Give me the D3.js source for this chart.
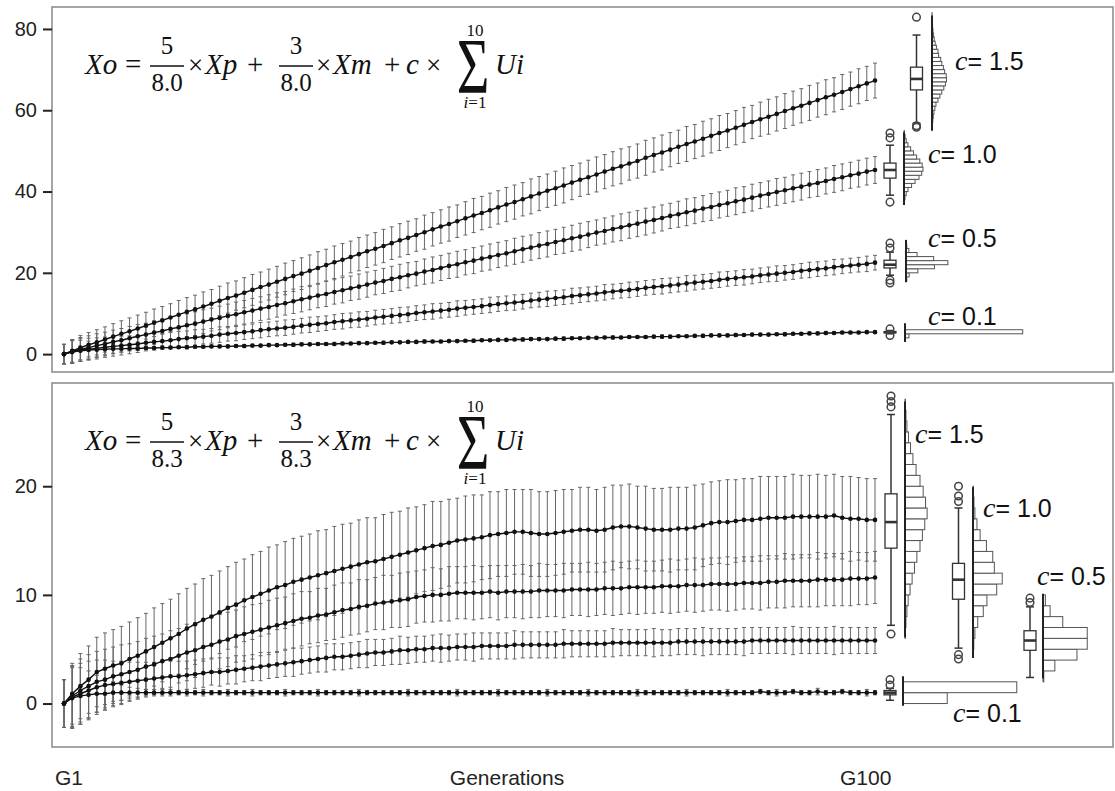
<!DOCTYPE html>
<html>
<head>
<script src="https://d3js.org/d3.v7.min.js"></script>
<style>
  body { margin: 0; background: #fff; }
  svg { display: block; background: #fff; }
</style>
</head>
<body>
<div id="container"></div>
<script>
// ---------- data ----------
var generations = d3.range(1, 101);
var cLevels = ["1.5", "1.0", "0.5", "0.1"];
var topTicks = [0, 20, 40, 60, 80];
var bottomTicks = [0, 10, 20];
var xLabels = ["G1", "Generations", "G100"];

// top panel: Xo = 5/8.0 Xp + 3/8.0 Xm + c * sum(Ui)
var topMean15 = [0.0,0.8,1.6,2.3,2.9,3.6,4.3,5.0,5.6,6.3,
  7.0,7.7,8.3,9.0,9.7,10.4,11.0,11.7,12.4,13.1,
  13.8,14.4,15.1,15.8,16.5,17.1,17.8,18.5,19.2,19.8,
  20.5,21.2,21.9,22.6,23.2,23.9,24.6,25.3,25.9,26.6,
  27.3,28.0,28.6,29.3,30.0,30.7,31.4,32.0,32.7,33.4,
  34.1,34.7,35.4,36.1,36.8,37.4,38.1,38.8,39.5,40.2,
  40.8,41.5,42.2,42.9,43.5,44.2,44.9,45.6,46.2,46.9,
  47.5,48.3,49.0,49.6,50.3,51.0,51.7,52.3,53.0,53.7,
  54.4,55.0,55.7,56.4,57.1,57.8,58.4,59.1,59.8,60.5,
  61.1,61.8,62.5,63.2,63.8,64.5,65.2,65.9,66.6,67.3];
var topMean10 = [0.0,0.7,1.2,1.6,2.1,2.5,3.0,3.4,3.9,4.4,
  4.8,5.3,5.7,6.2,6.6,7.1,7.5,8.0,8.5,8.9,
  9.4,9.8,10.3,10.7,11.2,11.6,12.1,12.5,13.0,13.5,
  13.9,14.4,14.8,15.3,15.7,16.2,16.6,17.1,17.6,18.0,
  18.5,18.9,19.4,19.8,20.3,20.7,21.2,21.7,22.1,22.6,
  23.0,23.5,23.9,24.4,24.8,25.3,25.8,26.2,26.7,27.1,
  27.6,28.0,28.5,28.9,29.4,29.9,30.3,30.8,31.2,31.7,
  32.1,32.6,33.0,33.5,34.0,34.4,34.9,35.3,35.8,36.2,
  36.7,37.1,37.6,38.0,38.5,39.0,39.4,39.9,40.3,40.8,
  41.2,41.7,42.1,42.6,43.1,43.5,44.0,44.4,44.9,45.3];
var topMean05 = [0.0,0.6,1.0,1.2,1.4,1.7,1.9,2.1,2.3,2.5,
  2.8,3.0,3.2,3.4,3.7,3.9,4.1,4.3,4.5,4.8,
  5.0,5.2,5.4,5.6,5.9,6.1,6.3,6.5,6.7,7.0,
  7.2,7.4,7.6,7.9,8.1,8.3,8.5,8.7,9.0,9.2,
  9.4,9.6,9.8,10.1,10.3,10.5,10.7,10.9,11.2,11.4,
  11.6,11.8,12.1,12.3,12.5,12.7,12.9,13.2,13.4,13.6,
  13.8,14.0,14.3,14.5,14.7,14.9,15.2,15.4,15.6,15.8,
  16.0,16.3,16.5,16.7,16.9,17.1,17.4,17.6,17.8,18.0,
  18.3,18.5,18.7,18.9,19.1,19.4,19.6,19.8,20.0,20.2,
  20.5,20.7,20.9,21.1,21.4,21.6,21.8,22.0,22.2,22.5];
var topMean01 = [0.0,0.5,0.8,1.0,1.1,1.2,1.3,1.3,1.4,1.4,
  1.5,1.5,1.6,1.6,1.7,1.7,1.8,1.8,1.9,1.9,
  1.9,2.0,2.0,2.1,2.1,2.2,2.2,2.3,2.3,2.4,
  2.4,2.5,2.5,2.5,2.6,2.6,2.7,2.7,2.8,2.8,
  2.9,2.9,3.0,3.0,3.1,3.1,3.1,3.2,3.2,3.3,
  3.3,3.4,3.4,3.5,3.5,3.6,3.6,3.7,3.7,3.7,
  3.8,3.8,3.9,3.9,4.0,4.0,4.1,4.1,4.1,4.2,
  4.2,4.2,4.3,4.3,4.3,4.4,4.4,4.5,4.5,4.6,
  4.6,4.6,4.7,4.7,4.8,4.8,4.8,4.9,4.9,5.0,
  5.0,5.1,5.1,5.2,5.2,5.3,5.3,5.3,5.4,5.4];

var topSd15 = [2.4,2.8,3.0,3.0,3.1,3.1,3.2,3.2,3.3,3.3,
  3.3,3.4,3.4,3.4,3.5,3.5,3.5,3.6,3.5,3.6,
  3.7,3.6,3.7,3.8,3.7,3.8,3.8,3.9,3.8,3.9,
  3.9,4.0,3.9,4.0,4.0,3.9,4.1,4.0,4.0,4.1,
  4.0,4.1,4.1,4.0,4.2,4.1,4.1,4.2,4.0,4.1,
  4.2,4.1,4.2,4.1,4.2,4.2,4.1,4.3,4.2,4.1,
  4.2,4.3,4.2,4.1,4.2,4.3,4.2,4.2,4.3,4.1,
  4.2,4.3,4.2,4.3,4.2,4.1,4.3,4.2,4.3,4.2,
  4.3,4.2,4.2,4.3,4.1,4.2,4.3,4.2,4.3,4.2,
  4.2,4.3,4.2,4.3,4.2,4.3,4.2,4.3,4.2,4.3];
var topSd10 = [2.4,2.8,2.9,2.9,2.9,2.9,2.9,2.9,2.9,2.9,
  2.8,2.9,2.8,2.9,2.9,2.8,2.9,2.9,2.8,2.9,
  2.9,3.0,2.9,3.0,2.9,3.0,3.0,2.9,3.0,3.1,
  3.0,3.0,3.1,3.0,3.1,3.0,3.1,3.1,3.0,3.1,
  3.1,3.2,3.1,3.0,3.1,3.2,3.1,3.1,3.2,3.1,
  3.2,3.1,3.2,3.1,3.1,3.2,3.2,3.1,3.2,3.2,
  3.1,3.2,3.2,3.3,3.2,3.1,3.2,3.2,3.3,3.2,
  3.2,3.3,3.2,3.2,3.1,3.2,3.3,3.2,3.2,3.3,
  3.2,3.2,3.3,3.2,3.3,3.2,3.2,3.3,3.2,3.3,
  3.3,3.2,3.3,3.2,3.3,3.3,3.2,3.3,3.3,3.3];
var topSd05 = [2.4,2.8,2.8,2.7,2.6,2.5,2.4,2.3,2.2,2.1,
  2.0,2.0,1.9,1.9,1.9,1.8,1.9,1.8,1.8,1.9,
  1.8,1.9,1.8,1.8,1.9,1.8,1.8,1.9,1.8,1.8,
  1.9,1.8,1.8,1.8,1.9,1.8,1.9,1.8,1.8,1.8,
  1.8,1.9,1.8,1.8,1.8,1.9,1.8,1.8,1.9,1.8,
  1.8,1.8,1.9,1.8,1.8,1.9,1.8,1.8,1.8,1.9,
  1.8,1.8,1.9,1.8,1.8,1.8,1.9,1.8,1.8,1.9,
  1.8,1.8,1.8,1.9,1.8,1.8,1.9,1.8,1.8,1.8,
  1.9,1.8,1.8,1.9,1.8,1.8,1.8,1.9,1.8,1.8,
  1.8,1.9,1.8,1.8,1.9,1.8,1.8,1.8,1.9,1.8];
var topSd01 = [2.4,2.8,2.6,2.2,1.8,1.4,1.1,0.8,0.6,0.5,
  0.4,0.4,0.4,0.3,0.3,0.4,0.3,0.3,0.3,0.3,
  0.3,0.3,0.4,0.3,0.3,0.3,0.3,0.3,0.4,0.3,
  0.3,0.3,0.3,0.4,0.3,0.3,0.3,0.3,0.3,0.4,
  0.3,0.3,0.3,0.3,0.4,0.3,0.3,0.3,0.3,0.3,
  0.4,0.3,0.3,0.3,0.3,0.3,0.4,0.3,0.3,0.3,
  0.3,0.4,0.3,0.3,0.3,0.3,0.3,0.4,0.3,0.3,
  0.3,0.3,0.3,0.4,0.3,0.3,0.3,0.3,0.4,0.3,
  0.3,0.3,0.4,0.3,0.3,0.3,0.3,0.3,0.4,0.3,
  0.3,0.3,0.3,0.4,0.3,0.3,0.3,0.3,0.3,0.3];

// bottom panel: Xo = 5/8.3 Xp + 3/8.3 Xm + c * sum(Ui)
var botMean15 = [0.0,0.9,1.6,2.2,2.9,3.2,3.5,3.7,4.1,4.4,
  4.8,5.2,5.6,6.0,6.4,6.9,7.3,7.7,8.0,8.4,
  8.8,9.1,9.5,9.8,10.1,10.4,10.7,10.9,11.2,11.4,
  11.6,11.8,12.0,12.2,12.4,12.6,12.8,13.0,13.1,13.3,
  13.5,13.7,13.9,14.1,14.3,14.5,14.6,14.8,15.0,15.1,
  15.2,15.3,15.5,15.6,15.7,15.8,15.8,15.7,15.6,15.6,
  15.7,15.8,15.9,16.0,16.0,15.9,16.0,16.2,16.3,16.3,
  16.2,16.1,16.0,16.0,16.0,16.1,16.1,16.2,16.4,16.6,
  16.7,16.7,16.8,16.9,16.9,17.0,17.1,17.1,17.1,17.2,
  17.2,17.2,17.2,17.2,17.3,17.1,17.0,17.0,16.9,16.9];
var botMean10 = [0.0,0.7,1.2,1.6,2.0,2.2,2.5,2.7,2.9,3.1,
  3.4,3.6,3.9,4.1,4.4,4.7,4.9,5.2,5.4,5.7,
  5.9,6.2,6.4,6.6,6.8,7.0,7.2,7.4,7.6,7.8,
  7.9,8.1,8.2,8.4,8.6,8.7,8.9,9.0,9.2,9.3,
  9.4,9.5,9.6,9.8,9.9,10.0,10.0,10.1,10.2,10.2,
  10.2,10.2,10.3,10.2,10.3,10.3,10.3,10.3,10.4,10.4,
  10.4,10.4,10.5,10.5,10.5,10.5,10.6,10.6,10.6,10.7,
  10.7,10.7,10.7,10.8,10.8,10.8,10.9,10.9,10.9,11.0,
  11.0,11.0,11.0,11.1,11.1,11.1,11.2,11.2,11.3,11.3,
  11.3,11.3,11.4,11.4,11.4,11.4,11.5,11.5,11.5,11.6];
var botMean05 = [0.0,0.6,0.9,1.2,1.5,1.7,1.8,1.9,2.0,2.1,
  2.2,2.3,2.4,2.5,2.5,2.6,2.7,2.8,2.9,2.9,
  3.0,3.1,3.2,3.3,3.4,3.5,3.6,3.7,3.8,3.9,
  4.0,4.1,4.2,4.3,4.3,4.4,4.5,4.6,4.7,4.7,
  4.8,4.9,4.9,5.0,5.0,5.1,5.1,5.1,5.2,5.2,
  5.2,5.3,5.3,5.3,5.3,5.4,5.4,5.4,5.4,5.4,
  5.4,5.5,5.5,5.5,5.5,5.5,5.5,5.6,5.6,5.6,
  5.6,5.6,5.6,5.6,5.6,5.7,5.7,5.7,5.7,5.7,
  5.7,5.7,5.7,5.7,5.8,5.8,5.8,5.8,5.8,5.8,
  5.8,5.8,5.8,5.8,5.8,5.8,5.8,5.8,5.8,5.8];
var botMean01 = [0.0,0.5,0.7,0.8,0.9,0.9,1.0,1.0,1.0,1.0,
  1.0,1.0,1.0,1.0,1.0,1.0,1.0,1.0,1.0,1.0,
  1.0,1.0,1.0,1.0,1.0,1.0,1.0,1.0,1.0,1.0,
  1.0,1.0,1.0,1.0,1.0,1.0,1.0,1.0,1.0,1.0,
  1.0,1.0,1.0,1.0,1.0,1.0,1.0,1.0,1.0,1.0,
  1.0,1.0,1.0,1.0,1.0,1.0,1.0,1.0,1.0,1.0,
  1.0,1.0,1.0,1.0,1.0,1.0,1.0,1.0,1.0,1.0,
  1.0,1.0,1.0,1.0,1.0,1.0,1.0,1.0,1.0,1.0,
  1.0,1.0,1.0,1.0,1.0,1.1,1.0,1.0,1.0,1.1,
  1.0,1.0,1.1,1.0,1.0,1.1,1.0,1.0,1.0,1.0];

var botSd15 = [2.2,2.8,3.0,3.1,3.2,3.3,3.3,3.4,3.4,3.5,
  3.5,3.6,3.6,3.6,3.7,3.7,3.7,3.8,3.8,3.8,
  3.8,3.9,3.8,3.9,3.9,4.0,3.9,4.0,4.0,4.0,
  4.0,4.1,4.0,4.1,4.1,4.0,4.1,4.1,4.0,4.1,
  4.1,4.0,4.1,4.0,4.0,4.1,4.0,4.0,3.9,4.0,
  4.0,3.9,4.0,3.9,4.0,3.9,3.9,4.0,3.9,3.9,
  3.9,3.9,3.8,3.9,3.9,3.8,3.9,3.9,3.8,3.9,
  3.8,3.9,3.8,3.8,3.9,3.8,3.8,3.9,3.8,3.8,
  3.8,3.9,3.8,3.8,3.8,3.9,3.8,3.8,3.8,3.9,
  3.8,3.8,3.9,3.8,3.8,3.8,3.9,3.8,3.8,3.8];
var botSd10 = [2.2,2.8,2.9,2.9,2.8,2.8,2.7,2.7,2.6,2.6,
  2.6,2.6,2.5,2.6,2.5,2.6,2.5,2.5,2.6,2.5,
  2.5,2.4,2.5,2.5,2.4,2.5,2.5,2.4,2.5,2.5,
  2.4,2.5,2.4,2.5,2.5,2.4,2.5,2.4,2.4,2.5,
  2.4,2.5,2.5,2.4,2.4,2.5,2.4,2.5,2.4,2.4,
  2.5,2.4,2.4,2.5,2.4,2.4,2.5,2.4,2.5,2.4,
  2.4,2.5,2.4,2.4,2.5,2.4,2.4,2.5,2.4,2.4,
  2.5,2.4,2.4,2.4,2.5,2.4,2.4,2.5,2.4,2.4,
  2.4,2.5,2.4,2.4,2.4,2.5,2.4,2.4,2.5,2.4,
  2.4,2.4,2.5,2.4,2.4,2.4,2.5,2.4,2.4,2.4];
var botSd05 = [2.2,2.8,2.8,2.7,2.5,2.3,2.1,2.0,1.8,1.7,
  1.6,1.5,1.5,1.4,1.4,1.3,1.3,1.3,1.2,1.3,
  1.2,1.3,1.2,1.2,1.3,1.2,1.2,1.2,1.3,1.2,
  1.2,1.2,1.3,1.2,1.2,1.2,1.2,1.3,1.2,1.2,
  1.2,1.3,1.2,1.2,1.2,1.2,1.3,1.2,1.2,1.2,
  1.3,1.2,1.2,1.2,1.2,1.3,1.2,1.2,1.2,1.2,
  1.2,1.3,1.2,1.2,1.2,1.2,1.2,1.3,1.2,1.2,
  1.2,1.2,1.3,1.2,1.2,1.2,1.2,1.2,1.3,1.2,
  1.2,1.2,1.2,1.3,1.2,1.2,1.2,1.2,1.2,1.3,
  1.2,1.2,1.2,1.2,1.3,1.2,1.2,1.2,1.2,1.2];
var botSd01 = [2.2,2.8,2.6,2.2,1.7,1.3,1.0,0.7,0.5,0.4,
  0.3,0.3,0.3,0.3,0.2,0.3,0.2,0.3,0.2,0.2,
  0.3,0.2,0.2,0.3,0.2,0.2,0.2,0.3,0.2,0.2,
  0.2,0.3,0.2,0.2,0.2,0.2,0.3,0.2,0.2,0.2,
  0.2,0.2,0.3,0.2,0.2,0.2,0.2,0.2,0.3,0.2,
  0.2,0.2,0.2,0.3,0.2,0.2,0.2,0.2,0.2,0.3,
  0.2,0.2,0.2,0.2,0.3,0.2,0.2,0.2,0.2,0.2,
  0.3,0.2,0.2,0.2,0.2,0.2,0.3,0.2,0.2,0.2,
  0.2,0.3,0.2,0.2,0.2,0.2,0.2,0.3,0.2,0.2,
  0.2,0.2,0.3,0.2,0.2,0.2,0.2,0.2,0.3,0.2];

// G100 distributions: box stats [lower whisker, q1, median, q3, upper whisker]
var topBox = [[56.8, 65.0, 67.7, 70.6, 78.5], [39.1, 43.3, 45.3, 47.0, 51.4],
  [19.4, 21.2, 22.0, 23.1, 25.1], [5.0, 5.3, 5.4, 5.5, 5.8]];
var topOutliers = [[82.9, 56.2, 55.8], [54.4, 53.2, 37.4], [27.3, 26.1, 18.2, 17.5], [6.2, 4.6]];
var botBox = [[7.2, 14.3, 16.7, 19.3, 26.6], [5.1, 9.6, 11.4, 12.9, 18.0],
  [2.4, 4.9, 5.8, 6.7, 8.9], [0.3, 0.8, 1.0, 1.2, 1.4]];
var botOutliers = [[28.3, 27.8, 27.3, 6.4], [20.0, 19.1, 18.6, 4.5, 4.1], [9.7, 9.3], [2.2, 1.7]];

// histograms, unit-wide bins starting at histStart
var topHistStart = [55, 37, 18, 4];
var topHist15 = [2,3,5,8,12,18,25,38,50,62,75,85,92,90,80,72,62,55,42,38,28,20,14,10,6,4,2,1,1];
var topHist10 = [3,6,14,25,48,70,95,112,120,115,100,80,60,42,25,14,7,3];
var topHist05 = [5,20,75,180,265,175,70,18,5,2];
var topHist01 = [25,745];
var topHistRange = [[55.0, 83.3], [36.7, 54.6], [17.7, 28.1], [3.0, 7.6]];
var botHistStart = [6, 5, 2, 0];
var botHist15 = [3,6,12,20,32,45,60,75,95,110,125,140,130,115,95,70,50,35,22,12,6,3];
var botHist10 = [5,12,30,65,88,150,185,135,125,85,45,25,12,6,3];
var botHist05 = [5,75,215,280,280,125,45,15];
var botHist01 = [280,720];
var botHistRange = [[6.1, 27.8], [4.2, 19.9], [2.3, 10.1], [-0.2, 2.5]];

// ---------- layout ----------
var width = 1115, height = 791;
var frameLeft = 52, frameRight = 1113;
var sans = "'Liberation Sans', Arial, sans-serif";
var serif = "'Liberation Serif', 'Times New Roman', serif";

var panels = [
  { top: 7, bottom: 372, domain: [-4.4, 85.4], ticks: topTicks, denom: "8.0",
    means: [topMean15, topMean10, topMean05, topMean01],
    sds: [topSd15, topSd10, topSd05, topSd01],
    box: topBox, outliers: topOutliers,
    histStart: topHistStart, hist: [topHist15, topHist10, topHist05, topHist01], histRange: topHistRange,
    boxX: [916.5, 890, 890, 890], histX: [932, 904, 906, 905],
    labelXY: [[955, 70], [928, 163], [928, 247], [928, 325]] },
  { top: 383, bottom: 747, domain: [-4.0, 29.5], ticks: bottomTicks, denom: "8.3",
    means: [botMean15, botMean10, botMean05, botMean01],
    sds: [botSd15, botSd10, botSd05, botSd01],
    box: botBox, outliers: botOutliers,
    histStart: botHistStart, hist: [botHist15, botHist10, botHist05, botHist01], histRange: botHistRange,
    boxX: [891, 958.5, 1030, 890], histX: [905, 973, 1043, 903],
    labelXY: [[915, 443], [983, 517], [1037, 585], [953, 722]] }
];

var svg = d3.select("#container").append("svg")
  .attr("width", width)
  .attr("height", height);

var x = d3.scaleLinear().domain([1, 100]).range([64, 875]);
var count = d3.scaleLinear().domain([0, 1000]).range([0, 158]);

function drawFormula(g, B, denom) {
  function t(str, px, py, size, italic, anchor) {
    return g.append("text").attr("x", px).attr("y", py)
      .attr("font-family", serif).attr("font-size", size)
      .attr("font-style", italic ? "italic" : "normal")
      .attr("text-anchor", anchor || "start").attr("fill", "#111").text(str);
  }
  function frac(cx, num) {
    t(num, cx, B - 20, 25, false, "middle");
    g.append("line").attr("x1", cx - 17).attr("x2", cx + 17)
      .attr("y1", B - 8).attr("y2", B - 8).attr("stroke", "#111").attr("stroke-width", 1.3);
    t(denom, cx, B + 17, 25, false, "middle");
  }
  t("Xo", 85, B, 29, true);
  t("=", 125, B, 29, false);
  frac(167, "5");
  t("\u00d7", 188, B, 27, false);
  t("Xp", 205, B, 29, true);
  t("+", 247, B, 29, false);
  frac(296, "3");
  t("\u00d7", 316, B, 27, false);
  t("Xm", 333, B, 29, true);
  t("+", 384, B, 29, false);
  t("c", 406, B, 29, true);
  t("\u00d7", 426, B, 27, false);
  g.append("text").attr("transform", "translate(473," + (B + 18) + ") scale(0.72,1)")
    .attr("font-family", serif).attr("font-size", 78).attr("text-anchor", "middle")
    .attr("fill", "#111").text("\u03a3");
  t("10", 475, B - 38, 17, false, "middle");
  var low = g.append("text").attr("x", 475).attr("y", B + 34)
    .attr("font-family", serif).attr("font-size", 17).attr("text-anchor", "middle").attr("fill", "#111");
  low.append("tspan").attr("font-style", "italic").text("i");
  low.append("tspan").text("=1");
  t("Ui", 495, B, 29, true);
}

panels.forEach(function(p) {
  var y = d3.scaleLinear().domain(p.domain).range([p.bottom, p.top]);
  var g = svg.append("g");

  // frame
  g.append("rect")
    .attr("x", frameLeft).attr("y", p.top)
    .attr("width", frameRight - frameLeft).attr("height", p.bottom - p.top)
    .attr("fill", "none").attr("stroke", "#8f8f8f").attr("stroke-width", 1.6);

  // y axis
  var ax = g.append("g").attr("transform", "translate(" + frameLeft + ",0)")
    .call(d3.axisLeft(y).tickValues(p.ticks).tickSize(9).tickPadding(6));
  ax.select(".domain").remove();
  ax.selectAll(".tick line").attr("stroke", "#222").attr("stroke-width", 2);
  ax.selectAll(".tick text").attr("font-family", sans).attr("font-size", 20).attr("fill", "#222");

  drawFormula(g.append("g"), p.top + 67, p.denom);

  // error bars (mean +- sd) for every generation
  p.means.forEach(function(m, si) {
    var sd = p.sds[si];
    var pts = generations.map(function(gen, i) { return { g: gen, m: m[i], s: sd[i] }; });
    var eb = g.append("g").attr("stroke", "#666").attr("stroke-width", 1).attr("fill", "none");
    eb.selectAll("line.v").data(pts).enter().append("line").attr("class", "v")
      .attr("x1", function(d) { return x(d.g); }).attr("x2", function(d) { return x(d.g); })
      .attr("y1", function(d) { return y(d.m - d.s); }).attr("y2", function(d) { return y(d.m + d.s); });
    eb.selectAll("line.hi").data(pts).enter().append("line").attr("class", "hi")
      .attr("x1", function(d) { return x(d.g) - 2; }).attr("x2", function(d) { return x(d.g) + 2; })
      .attr("y1", function(d) { return y(d.m + d.s); }).attr("y2", function(d) { return y(d.m + d.s); });
    eb.selectAll("line.lo").data(pts).enter().append("line").attr("class", "lo")
      .attr("x1", function(d) { return x(d.g) - 2; }).attr("x2", function(d) { return x(d.g) + 2; })
      .attr("y1", function(d) { return y(d.m - d.s); }).attr("y2", function(d) { return y(d.m - d.s); });
  });

  // mean lines and dots
  p.means.forEach(function(m) {
    var line = d3.line().x(function(d, i) { return x(generations[i]); }).y(function(d) { return y(d); });
    g.append("path").datum(m).attr("d", line)
      .attr("fill", "none").attr("stroke", "#111").attr("stroke-width", 1.4);
    g.append("g").selectAll("circle").data(m).enter().append("circle")
      .attr("cx", function(d, i) { return x(generations[i]); })
      .attr("cy", function(d) { return y(d); })
      .attr("r", 2.3).attr("fill", "#111");
  });

  // G100 distributions: histogram + boxplot + label
  cLevels.forEach(function(c, si) {
    var hx = p.histX[si], bx = p.boxX[si], s = p.box[si];
    var hg = g.append("g");
    var bins = p.hist[si].map(function(n, k) { return { lo: p.histStart[si] + k, n: n }; })
      .filter(function(d) { return d.n > 0; });
    hg.selectAll("rect").data(bins).enter().append("rect")
      .attr("x", hx).attr("y", function(d) { return y(d.lo + 1); })
      .attr("width", function(d) { return count(d.n); })
      .attr("height", function(d) { return y(d.lo) - y(d.lo + 1); })
      .attr("fill", "#fff").attr("stroke", "#555").attr("stroke-width", 1);
    hg.append("line").attr("x1", hx).attr("x2", hx)
      .attr("y1", y(p.histRange[si][0])).attr("y2", y(p.histRange[si][1]))
      .attr("stroke", "#222").attr("stroke-width", 2);

    var bg = g.append("g").attr("stroke", "#333");
    bg.append("line").attr("x1", bx).attr("x2", bx).attr("y1", y(s[0])).attr("y2", y(s[4])).attr("stroke-width", 1.5);
    [s[0], s[4]].forEach(function(v) {
      bg.append("line").attr("x1", bx - 4).attr("x2", bx + 4).attr("y1", y(v)).attr("y2", y(v)).attr("stroke-width", 1.5);
    });
    bg.append("rect").attr("x", bx - 6).attr("width", 12)
      .attr("y", y(s[3])).attr("height", Math.max(1, y(s[1]) - y(s[3])))
      .attr("fill", "#fff").attr("stroke-width", 1.3);
    bg.append("line").attr("x1", bx - 6).attr("x2", bx + 6).attr("y1", y(s[2])).attr("y2", y(s[2])).attr("stroke-width", 2.6);
    bg.selectAll("circle").data(p.outliers[si]).enter().append("circle")
      .attr("cx", bx).attr("cy", function(d) { return y(d); }).attr("r", 3.8)
      .attr("fill", "none").attr("stroke", "#444").attr("stroke-width", 1.5);

    var lab = g.append("text").attr("x", p.labelXY[si][0]).attr("y", p.labelXY[si][1]).attr("fill", "#111");
    lab.append("tspan").attr("font-family", serif).attr("font-style", "italic").attr("font-size", 28).text("c");
    lab.append("tspan").attr("font-family", sans).attr("font-size", 25).text("= " + c);
  });
});

// x labels
svg.append("text").attr("x", 55).attr("y", 785).attr("font-family", sans).attr("font-size", 21).attr("fill", "#222").text(xLabels[0]);
svg.append("text").attr("x", 507).attr("y", 785).attr("text-anchor", "middle").attr("font-family", sans).attr("font-size", 21).attr("fill", "#222").text(xLabels[1]);
svg.append("text").attr("x", 840).attr("y", 785).attr("font-family", sans).attr("font-size", 21).attr("fill", "#222").text(xLabels[2]);
</script>
</body>
</html>
